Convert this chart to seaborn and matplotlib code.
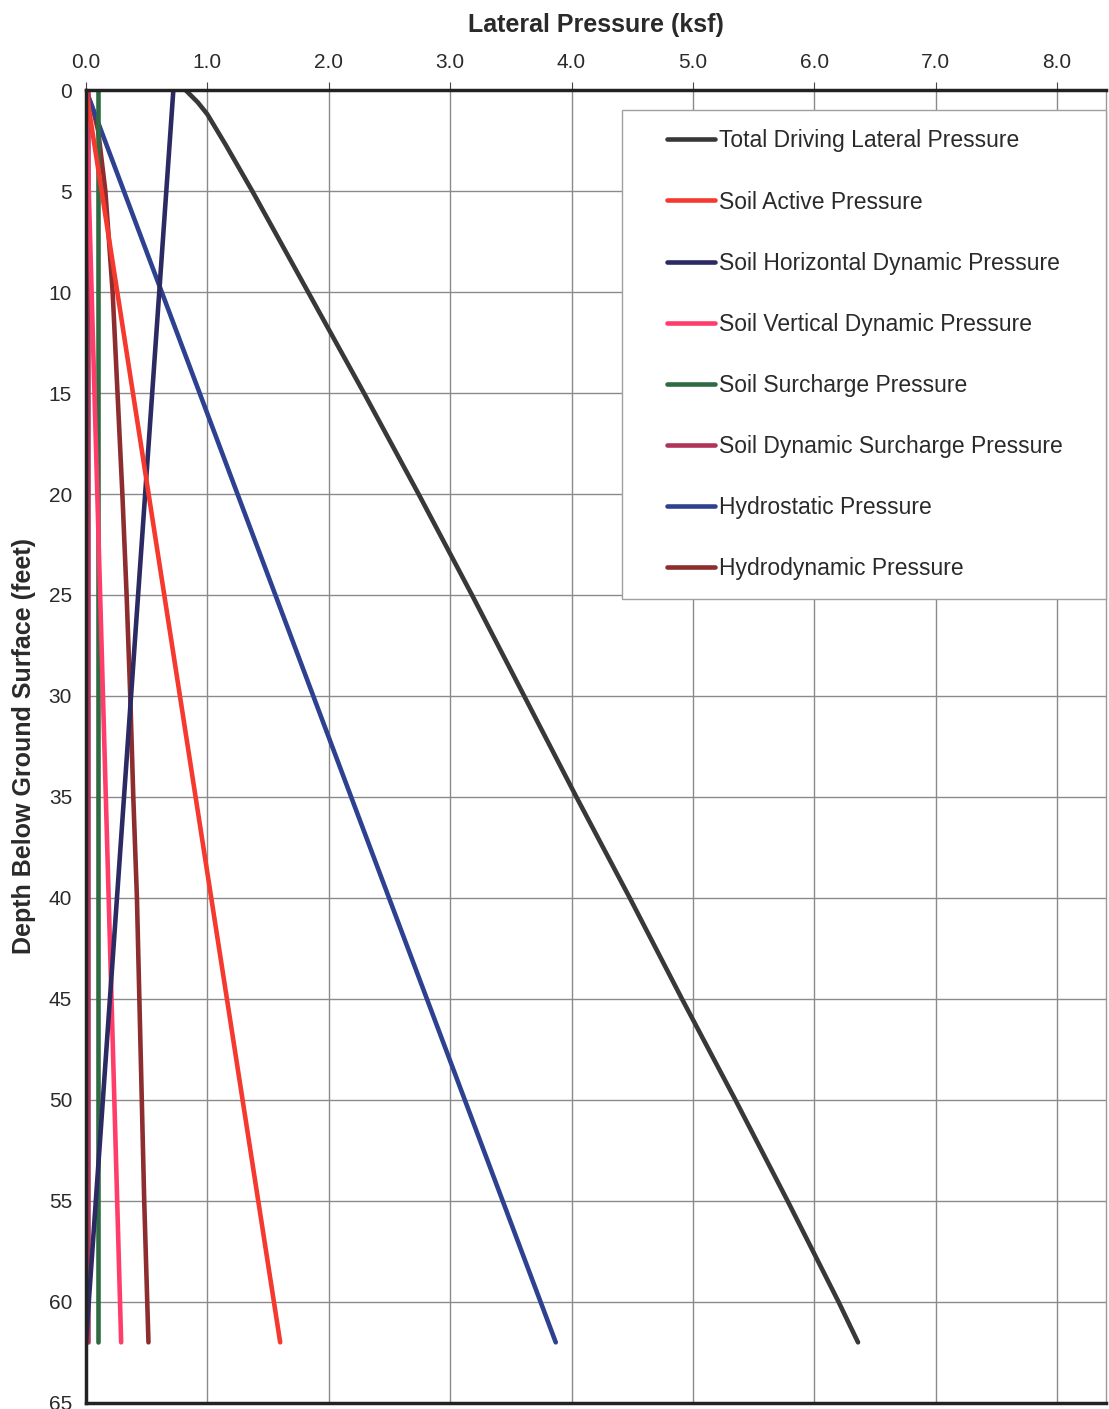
import numpy as np
import pandas as pd
import matplotlib.pyplot as plt
from matplotlib.legend_handler import HandlerLine2D
import seaborn as sns

# depth (ft) / pressure (ksf) pairs
total_depth = [0, 0.6, 1.2, 2.7, 5, 7.5, 10, 12.5, 15, 20, 25, 30, 35, 40, 45, 50, 55, 60, 62]
total_p = [0.82, 0.92, 1.00, 1.15, 1.37, 1.60, 1.83, 2.06, 2.29, 2.74, 3.18, 3.61, 4.04,
           4.48, 4.91, 5.35, 5.78, 6.20, 6.36]

active_depth = [0, 62]
active_p = [0.0, 1.60]

hdyn_depth = [0, 62]
hdyn_p = [0.72, 0.0]

vdyn_depth = [0, 62]
vdyn_p = [0.0, 0.29]

surch_depth = [0, 62]
surch_p = [0.10, 0.10]

dsurch_depth = [0, 62]
dsurch_p = [0.015, 0.015]

hydro_depth = [0, 62]
hydro_p = [0.0, 3.87]

hdyn_w_depth = [0, 1, 2, 5, 10, 15, 20, 25, 30, 35, 40, 45, 50, 55, 62]
hdyn_w_p = [0.0, 0.06, 0.10, 0.16, 0.22, 0.26, 0.30, 0.335, 0.365, 0.39, 0.42,
            0.44, 0.46, 0.48, 0.515]

names = ["Total Driving Lateral Pressure", "Soil Active Pressure",
         "Soil Horizontal Dynamic Pressure", "Soil Vertical Dynamic Pressure",
         "Soil Surcharge Pressure", "Soil Dynamic Surcharge Pressure",
         "Hydrostatic Pressure", "Hydrodynamic Pressure"]
colors = ["#383838", "#f5392e", "#2c2a63", "#ff3d6a",
          "#2f6b42", "#b0345a", "#2e4190", "#8e2d2f"]
series = [(total_depth, total_p), (active_depth, active_p), (hdyn_depth, hdyn_p),
          (vdyn_depth, vdyn_p), (surch_depth, surch_p), (dsurch_depth, dsurch_p),
          (hydro_depth, hydro_p), (hdyn_w_depth, hdyn_w_p)]

rows = []
for name, (d, p) in zip(names, series):
    for i in range(len(d)):
        rows.append({"series": name, "depth": d[i], "pressure": p[i]})
df = pd.DataFrame(rows)

sns.set_style("white")
plt.rcParams['font.family'] = ['Liberation Sans', 'DejaVu Sans']

fig = plt.figure(figsize=(11.09, 14.09), dpi=100)
ax = fig.add_axes([0.0775, 0.0043, 0.9195, 0.9318])

# reverse order so the total line ends up on top
for name, col in list(zip(names, colors))[::-1]:
    sns.lineplot(data=df[df["series"] == name], x="pressure", y="depth",
                 sort=False, estimator=None, color=col, linewidth=3.3,
                 ax=ax, label=name, solid_capstyle="round", solid_joinstyle="round")

ax.set_xlim(0, 8.4)
ax.set_ylim(65, 0)
ax.set_xticks(np.arange(0, 9, 1.0))
ax.set_xticklabels([f"{v:.1f}" for v in np.arange(0, 9, 1.0)])
ax.set_yticks(np.arange(0, 70, 5))
ax.xaxis.tick_top()
ax.xaxis.set_label_position("top")
ax.tick_params(axis="both", labelsize=15, length=6, color="#444444", labelcolor="#2a2a2a")
ax.tick_params(axis="x", pad=7)
ax.tick_params(axis="y", pad=4)
ax.set_xlabel("Lateral Pressure (ksf)", fontsize=18, fontweight="bold", labelpad=15, color="#2a2a2a")
ax.set_ylabel("Depth Below Ground Surface (feet)", fontsize=18, fontweight="bold", labelpad=9, color="#2a2a2a")
ax.grid(True, color="#8a8a8a", linewidth=1.0)

for s in ["top", "left", "bottom"]:
    ax.spines[s].set_linewidth(2.5)
    ax.spines[s].set_color("#222222")
ax.spines["right"].set_color("#999999")
ax.spines["right"].set_linewidth(1.0)

handles, labels = ax.get_legend_handles_labels()
order = [labels.index(n) for n in names]
leg = ax.legend([handles[i] for i in order], [labels[i] for i in order],
                loc="upper right", bbox_to_anchor=(0.5255, 0.5, 0.4745, 0.4848),
                mode="expand", borderaxespad=0,
                fontsize=16.5, labelspacing=1.66, handlelength=3.21, handletextpad=0.17,
                borderpad=0.85, fancybox=False, edgecolor="#a0a0a0", framealpha=1,
                handler_map={h: HandlerLine2D(xpad=1.11) for h in handles})
leg.get_frame().set_linewidth(1.0)
for t in leg.get_texts():
    t.set_color("#2a2a2a")

plt.savefig("out.png", dpi=100)
plt.close()
